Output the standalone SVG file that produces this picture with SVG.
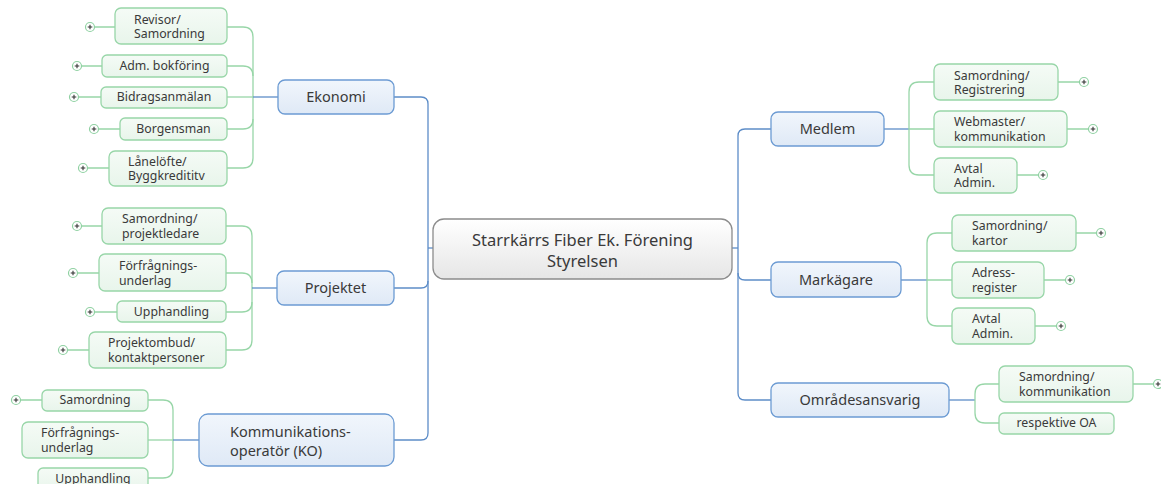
<svg xmlns="http://www.w3.org/2000/svg" width="1161" height="484" viewBox="0 0 1161 484">
<defs>
<linearGradient id="gBlue" x1="0" y1="0" x2="0" y2="1"><stop offset="0" stop-color="#f1f6fc"/><stop offset="1" stop-color="#dfe9f6"/></linearGradient>
<linearGradient id="gGreen" x1="0" y1="0" x2="0" y2="1"><stop offset="0" stop-color="#f5fbf6"/><stop offset="1" stop-color="#e8f5eb"/></linearGradient>
<linearGradient id="gGray" x1="0" y1="0" x2="0" y2="1"><stop offset="0" stop-color="#ffffff"/><stop offset="1" stop-color="#e6e6e6"/></linearGradient>
<g id="plus"><circle r="4.5" fill="#ffffff" stroke="#8fd1a2" stroke-width="1.2"/><path d="M-2.3,0H2.3M0,-2.3V2.3" stroke="#333" stroke-width="1.1"/></g>
</defs>
<style>
.blue{fill:none;stroke:#5d8dc8;stroke-width:1.3}
.green{fill:none;stroke:#98d6a8;stroke-width:1.3}
.main rect{fill:url(#gBlue);stroke:#6c9bd3;stroke-width:1.3}
.sub rect{fill:url(#gGreen);stroke:#98d6a8;stroke-width:1.3}
.center rect{fill:url(#gGray);stroke:#8c8c8c;stroke-width:1.3}
text{font-family:"Noto Sans","Open Sans","Liberation Sans",sans-serif;fill:#3a3a3a}
.sub text{font-size:12.3px}
.main text{font-size:14.5px}
.center text{font-size:16.5px}
.c{text-anchor:middle}
</style>
<rect width="1161" height="484" fill="#ffffff"/>
<g id="connectors">
<path class="blue" d="M394,97 H421 Q428,97 428,104 V433 Q428,440 421,440 H394"/>
<path class="blue" d="M394,288 H421 Q428,288 428,281"/>
<path class="blue" d="M428,248 H433"/>
<path class="blue" d="M771,129 H745 Q738,129 738,136 V393 Q738,400 745,400 H771"/>
<path class="blue" d="M738,273 Q738,280 745,280 H771"/>
<path class="blue" d="M732,248 H738"/>
<path class="green" d="M227,27 H243 Q253,27 253,37 V158 Q253,168 243,168 H227"/>
<path class="green" d="M227,66 H243 Q253,66 253,76"/>
<path class="green" d="M227,129 H243 Q253,129 253,119"/>
<path class="green" d="M227,97 H253"/>
<path class="blue" d="M253,97 H278"/>
<path class="green" d="M226,226 H242 Q252,226 252,236 V340 Q252,350 242,350 H226"/>
<path class="green" d="M226,273 H242 Q252,273 252,283"/>
<path class="green" d="M226,312 H242 Q252,312 252,302"/>
<path class="blue" d="M252,288 H277"/>
<path class="green" d="M148,400 H163 Q173,400 173,410 V468 Q173,478 163,478 H148"/>
<path class="green" d="M148,440 H173"/>
<path class="blue" d="M173,440 H199"/>
<path class="blue" d="M884,129 H909"/>
<path class="green" d="M909,129 H934 M934,82 H919 Q909,82 909,92 V165 Q909,175 919,175 H934"/>
<path class="blue" d="M901,280 H927"/>
<path class="green" d="M927,280 H952 M952,233 H937 Q927,233 927,243 V316 Q927,326 937,326 H952"/>
<path class="blue" d="M949,400 H975"/>
<path class="green" d="M999,384 H985 Q975,384 975,394 V413 Q975,423 985,423 H999"/>
<path class="green" d="M94.5,27 H115 M81.5,66 H102 M78.5,97 H101 M98.5,129 H120 M87.5,168 H109"/>
<path class="green" d="M81.5,226 H102 M77.5,273 H99 M94.5,312 H117 M67.5,350 H89 M20.5,400 H42"/>
<path class="green" d="M1058,82 H1079.5 M1067,129 H1088.5 M1017,175 H1038.5 M1076,233 H1096.5 M1044,280 H1065.5 M1035,326 H1056.5 M1133,384 H1153.5"/>
</g>
<g id="plus-icons">
<use href="#plus" x="90" y="27"/><use href="#plus" x="77" y="66"/><use href="#plus" x="74" y="97"/><use href="#plus" x="94" y="129"/><use href="#plus" x="83" y="168"/>
<use href="#plus" x="77" y="226"/><use href="#plus" x="73" y="273"/><use href="#plus" x="90" y="312"/><use href="#plus" x="63" y="350"/><use href="#plus" x="16" y="400"/>
<use href="#plus" x="1084" y="82"/><use href="#plus" x="1093" y="129"/><use href="#plus" x="1043" y="175"/><use href="#plus" x="1101" y="233"/><use href="#plus" x="1070" y="280"/><use href="#plus" x="1061" y="326"/><use href="#plus" x="1158" y="384"/>
</g>
<g id="center" class="center">
<rect x="433" y="219" width="299" height="60" rx="11"/>
<text class="c" x="582.5" y="246">Starrkärrs Fiber Ek. Förening</text>
<text class="c" x="582.5" y="267">Styrelsen</text>
</g>
<g id="ekonomi" class="main"><rect x="278" y="80" width="116" height="34" rx="7"/><text class="c" x="336" y="102.2">Ekonomi</text></g>
<g id="projektet" class="main"><rect x="277" y="271" width="117" height="34" rx="7"/><text class="c" x="335.5" y="293.2">Projektet</text></g>
<g id="ko" class="main"><rect x="199" y="414" width="195" height="52" rx="9"/><text x="230" y="437.2">Kommunikations-</text><text x="230" y="456.2">operatör (KO)</text></g>
<g id="medlem" class="main"><rect x="771" y="112" width="113" height="34" rx="7"/><text class="c" x="827.5" y="134.2">Medlem</text></g>
<g id="markagare" class="main"><rect x="771" y="262" width="130" height="35" rx="7"/><text class="c" x="836" y="285.2">Markägare</text></g>
<g id="omradesansvarig" class="main"><rect x="771" y="383" width="178" height="34" rx="7"/><text class="c" x="860" y="405.2">Områdesansvarig</text></g>
<g id="revisor" class="sub"><rect x="115" y="8" width="112" height="36" rx="6"/><text x="134" y="24.4">Revisor/</text><text x="134" y="38.4">Samordning</text></g>
<g id="adm" class="sub"><rect x="102" y="55" width="125" height="22" rx="5"/><text class="c" x="164.5" y="70.4">Adm. bokföring</text></g>
<g id="bidrag" class="sub"><rect x="101" y="87" width="126" height="21" rx="5"/><text class="c" x="164" y="101.4">Bidragsanmälan</text></g>
<g id="borgensman" class="sub"><rect x="120" y="118" width="107" height="22" rx="5"/><text class="c" x="173.5" y="133.4">Borgensman</text></g>
<g id="lanelofte" class="sub"><rect x="109" y="151" width="118" height="35" rx="6"/><text x="128" y="166.4">Lånelöfte/</text><text x="128" y="180.4">Byggkredititv</text></g>
<g id="samordning-proj" class="sub"><rect x="102" y="208" width="124" height="36" rx="6"/><text x="122" y="223.4">Samordning/</text><text x="122" y="238.4">projektledare</text></g>
<g id="forfragning-proj" class="sub"><rect x="99" y="254" width="127" height="37" rx="6"/><text x="119" y="270.4">Förfrågnings-</text><text x="119" y="285.4">underlag</text></g>
<g id="upphandling-proj" class="sub"><rect x="117" y="301" width="109" height="21" rx="5"/><text class="c" x="171.5" y="316.4">Upphandling</text></g>
<g id="projektombud" class="sub"><rect x="89" y="332" width="137" height="36" rx="6"/><text x="108" y="347.4">Projektombud/</text><text x="108" y="362.4">kontaktpersoner</text></g>
<g id="samordning-ko" class="sub"><rect x="42" y="390" width="106" height="21" rx="5"/><text class="c" x="95" y="404.4">Samordning</text></g>
<g id="forfragning-ko" class="sub"><rect x="22" y="422" width="126" height="36" rx="6"/><text x="41" y="437.4">Förfrågnings-</text><text x="41" y="452.4">underlag</text></g>
<g id="upphandling-ko" class="sub"><rect x="38" y="468" width="110" height="24" rx="5"/><text class="c" x="93" y="483.4">Upphandling</text></g>
<g id="samordning-reg" class="sub"><rect x="934" y="64" width="124" height="36" rx="6"/><text x="954" y="80.4">Samordning/</text><text x="954" y="94.4">Registrering</text></g>
<g id="webmaster" class="sub"><rect x="934" y="111" width="133" height="36" rx="6"/><text x="954" y="126.4">Webmaster/</text><text x="954" y="141.4">kommunikation</text></g>
<g id="avtal-medlem" class="sub"><rect x="934" y="158" width="83" height="35" rx="6"/><text x="954" y="173.4">Avtal</text><text x="954" y="187.4">Admin.</text></g>
<g id="samordning-kartor" class="sub"><rect x="952" y="215" width="124" height="36" rx="6"/><text x="972" y="230.4">Samordning/</text><text x="972" y="245.4">kartor</text></g>
<g id="adress" class="sub"><rect x="952" y="262" width="92" height="36" rx="6"/><text x="972" y="277.4">Adress-</text><text x="972" y="292.4">register</text></g>
<g id="avtal-mark" class="sub"><rect x="952" y="308" width="83" height="36" rx="6"/><text x="972" y="323.4">Avtal</text><text x="972" y="338.4">Admin.</text></g>
<g id="samordning-komm" class="sub"><rect x="999" y="366" width="134" height="36" rx="6"/><text x="1019" y="381.4">Samordning/</text><text x="1019" y="396.4">kommunikation</text></g>
<g id="respektive" class="sub"><rect x="999" y="413" width="115" height="21" rx="5"/><text class="c" x="1056.5" y="427.4">respektive OA</text></g>
</svg>
